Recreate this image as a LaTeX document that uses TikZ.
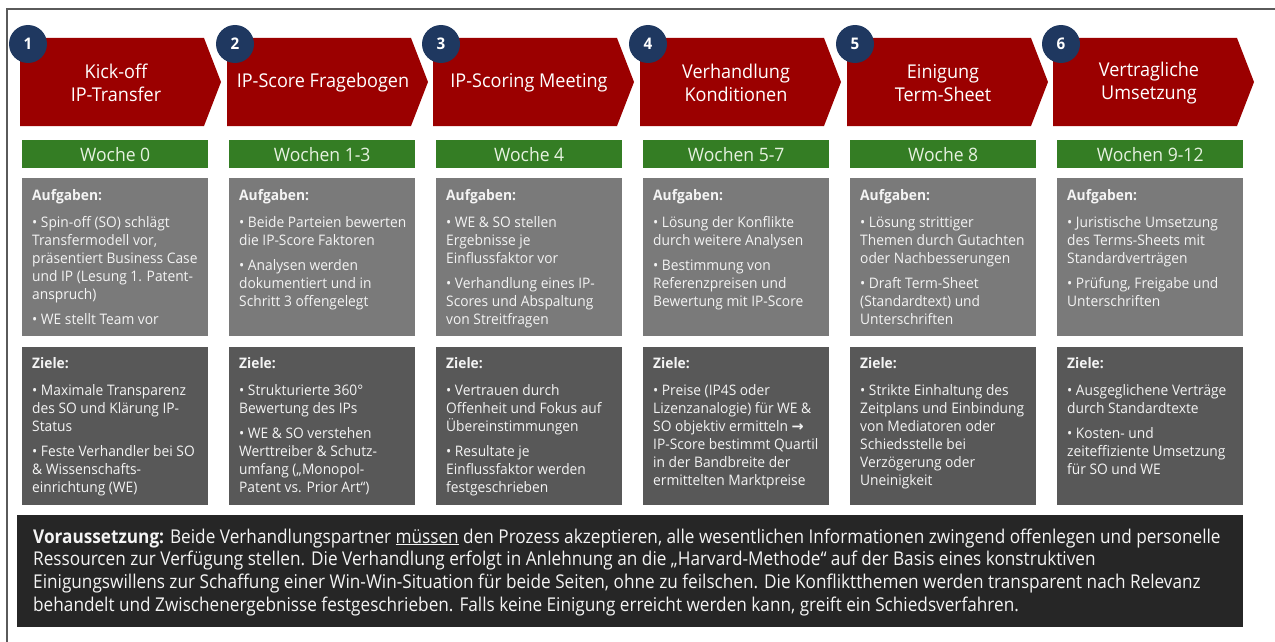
\documentclass[tikz,border=0pt]{standalone}
\usepackage{fontspec}
\setmainfont{Open Sans}[FakeStretch=0.95]
\newfontfamily\notefont{Open Sans}[FakeStretch=0.905]
\newfontfamily\symfont{DejaVu Sans}

\definecolor{stepred}{RGB}{155,0,0}
\definecolor{weekgreen}{RGB}{52,125,36}
\definecolor{weektext}{RGB}{230,242,224}
\definecolor{taskgray}{RGB}{122,122,122}
\definecolor{goalgray}{RGB}{88,88,88}
\definecolor{notebg}{RGB}{38,38,38}
\definecolor{badgeblue}{RGB}{31,56,96}
\definecolor{framegray}{RGB}{90,90,90}
\definecolor{boxtext}{RGB}{244,244,244}

\tikzset{
  chevron/.style={fill=stepred, draw=none},
  headtext/.style={text=white, align=center, inner sep=0pt,
    font=\fontsize{19}{23}\selectfont},
  badge/.style={circle, fill=badgeblue, minimum size=38pt, inner sep=0pt,
    text=white, font=\bfseries\fontsize{16}{18}\selectfont},
  weekbar/.style={fill=weekgreen, anchor=north west, minimum width=186pt,
    minimum height=28pt, inner sep=0pt, text=weektext,
    font=\fontsize{18.5}{20}\selectfont},
  taskbox/.style={fill=taskgray, anchor=north west, minimum width=186pt,
    minimum height=158pt, inner sep=0pt},
  goalbox/.style={fill=goalgray, anchor=north west, minimum width=186pt,
    minimum height=158pt, inner sep=0pt},
  boxcopy/.style={anchor=base west, inner sep=0pt, text=boxtext,
    font=\fontsize{14.5}{18}\selectfont},
}

% text block of a gray box: title line, then the bullet lines
\newcommand\boxblock[2]{\parbox[t]{176pt}{\raggedright\textbf{#1}\\[9pt]#2}}
\newcommand\bgap{\\[7pt]}

\begin{document}
\begin{tikzpicture}[x=1pt,y=-1pt]
\useasboundingbox (0,0) rectangle (1275,642);

% outer frame
\draw[framegray, line width=2pt] (7,643) -- (7,9) -- (1276,9);

% step chevrons and badges
\foreach \i/\L in {1/20, 2/227, 3/433, 4/640, 5/847, 6/1053}{
  \fill[chevron] (\L,38) -- (\L+184,38) -- (\L+201,82) -- (\L+184,126) -- (\L,126) -- cycle;
  \node[badge] (badge\i) at (\L+8,44) {\i};
}

\node[headtext] (head1) at (116,83) {Kick-off\\IP-Transfer};
\node[headtext] (head2) at (323,83) {IP-Score Fragebogen};
\node[headtext] (head3) at (529,83) {IP-Scoring Meeting};
\node[headtext] (head4) at (736,83) {Verhandlung\\Konditionen};
\node[headtext] (head5) at (943,83) {Einigung\\Term-Sheet};
\node[headtext] (head6) at (1149,83) {Vertragliche\\Umsetzung};

\node[weekbar] (week1) at (22,140)   {Woche 0};
\node[weekbar] (week2) at (229,140)  {Wochen 1-3};
\node[weekbar] (week3) at (436,140)  {Woche 4};
\node[weekbar] (week4) at (643,140)  {Wochen 5-7};
\node[weekbar] (week5) at (850,140)  {Woche 8};
\node[weekbar] (week6) at (1057,140) {Wochen 9-12};

% task and goal boxes
\foreach \i/\bx in {1/22, 2/229, 3/436, 4/643, 5/850, 6/1057}{
  \node[taskbox] (task\i) at (\bx,178) {};
  \node[goalbox] (goal\i) at (\bx,347) {};
}

% column 1
\node[boxcopy] (tasktext1) at (32,200) {\boxblock{Aufgaben:}{%
• Spin-off (SO) schlägt\\Transfermodell vor,\\präsentiert Business Case\\und IP (Lesung 1. Patent-\\anspruch)\bgap
• WE stellt Team vor}};
\node[boxcopy] (goaltext1) at (32,368) {\boxblock{Ziele:}{%
• Maximale Transparenz\\des SO und Klärung IP-\\Status\bgap
• Feste Verhandler bei SO\\\& Wissenschafts-\\einrichtung (WE)}};

% column 2
\node[boxcopy] (tasktext2) at (239,200) {\boxblock{Aufgaben:}{%
• Beide Parteien bewerten\\die IP-Score Faktoren\bgap
• Analysen werden\\dokumentiert und in\\Schritt 3 offengelegt}};
\node[boxcopy] (goaltext2) at (239,368) {\boxblock{Ziele:}{%
• Strukturierte 360°\\Bewertung des IPs\bgap
• WE \& SO verstehen\\Werttreiber \& Schutz-\\umfang („Monopol-\\Patent vs. Prior Art“)}};

% column 3
\node[boxcopy] (tasktext3) at (446,200) {\boxblock{Aufgaben:}{%
• WE \& SO stellen\\Ergebnisse je\\Einflussfaktor vor\bgap
• Verhandlung eines IP-\\Scores und Abspaltung\\von Streitfragen}};
\node[boxcopy] (goaltext3) at (446,368) {\boxblock{Ziele:}{%
• Vertrauen durch\\Offenheit und Fokus auf\\Übereinstimmungen\bgap
• Resultate je\\Einflussfaktor werden\\festgeschrieben}};

% column 4
\node[boxcopy] (tasktext4) at (653,200) {\boxblock{Aufgaben:}{%
• Lösung der Konflikte\\durch weitere Analysen\bgap
• Bestimmung von\\Referenzpreisen und\\Bewertung mit IP-Score}};
\node[boxcopy] (goaltext4) at (653,368) {\boxblock{Ziele:}{%
• Preise (IP4S oder\\Lizenzanalogie) für WE \&\\SO objektiv ermitteln {\symfont\bfseries →}\\IP-Score bestimmt Quartil\\in der Bandbreite der\\ermittelten Marktpreise}};

% column 5
\node[boxcopy] (tasktext5) at (860,200) {\boxblock{Aufgaben:}{%
• Lösung strittiger\\Themen durch Gutachten\\oder Nachbesserungen\bgap
• Draft Term-Sheet\\(Standardtext) und\\Unterschriften}};
\node[boxcopy] (goaltext5) at (860,368) {\boxblock{Ziele:}{%
• Strikte Einhaltung des\\Zeitplans und Einbindung\\von Mediatoren oder\\Schiedsstelle bei\\Verzögerung oder\\Uneinigkeit}};

% column 6
\node[boxcopy] (tasktext6) at (1067,200) {\boxblock{Aufgaben:}{%
• Juristische Umsetzung\\des Terms-Sheets mit\\Standardverträgen\bgap
• Prüfung, Freigabe und\\Unterschriften}};
\node[boxcopy] (goaltext6) at (1067,368) {\boxblock{Ziele:}{%
• Ausgeglichene Verträge\\durch Standardtexte\bgap
• Kosten- und\\zeiteffiziente Umsetzung\\für SO und WE}};

% prerequisite note
\node[fill=notebg, anchor=north west, minimum width=1226pt, minimum height=112pt,
  inner sep=0pt] (note) at (17,515) {};
\node[anchor=base west, inner sep=0pt, text=boxtext] (notetext) at (33,543)
  {\parbox[t]{1220pt}{\notefont\fontsize{19}{22.8}\selectfont
  {\bfseries Voraussetzung:} Beide Verhandlungspartner \underline{müssen} den Prozess akzeptieren, alle wesentlichen Informationen zwingend offenlegen und personelle\\
  Ressourcen zur Verfügung stellen. Die Verhandlung erfolgt in Anlehnung an die „Harvard-Methode“ auf der Basis eines konstruktiven\\
  Einigungswillens zur Schaffung einer Win-Win-Situation für beide Seiten, ohne zu feilschen. Die Konfliktthemen werden transparent nach Relevanz\\
  behandelt und Zwischenergebnisse festgeschrieben. Falls keine Einigung erreicht werden kann, greift ein Schiedsverfahren.}};
\end{tikzpicture}
\end{document}
